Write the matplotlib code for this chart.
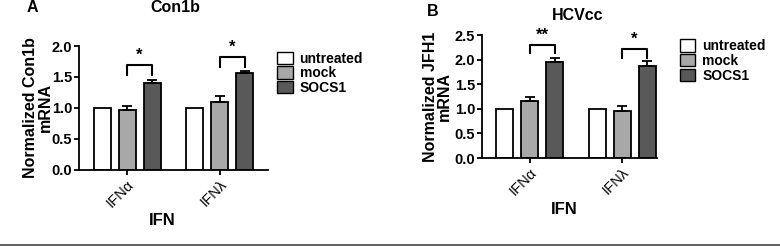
import numpy as np
import matplotlib
matplotlib.use("Agg")
import matplotlib.pyplot as plt
from matplotlib.lines import Line2D
from matplotlib.patches import Patch

plt.rcParams["font.family"] = ["Liberation Sans", "DejaVu Sans"]
plt.rcParams["font.weight"] = "bold"

GROUPS = ["IFN\u03b1", "IFN\u03bb"]
CONDS = ["untreated", "mock", "SOCS1"]
COLORS = ["#ffffff", "#a8a8a8", "#595959"]

# Panel A: Con1b
A_VALS = [[1.00, 0.96, 1.40], [1.00, 1.10, 1.56]]
A_ERR = [[0.0, 0.08, 0.05], [0.0, 0.09, 0.04]]
A_SIG = ["*", "*"]
A_BRACKET = [(1.69, 1.53), (1.82, 1.66)]  # (top, leg bottom)

# Panel B: HCVcc
B_VALS = [[1.00, 1.16, 1.95], [1.00, 0.95, 1.87]]
B_ERR = [[0.0, 0.09, 0.08], [0.0, 0.10, 0.10]]
B_SIG = ["**", "*"]
B_BRACKET = [(2.30, 2.13), (2.21, 2.03)]

GAP = 3.7
W = 0.68


def panel(ax, vals, errs, sigs, brackets, ymax, yticks, ylabel, xlim, leg_anchor):
    centers = np.arange(len(GROUPS)) * GAP
    for gi, c in enumerate(centers):
        for k in range(3):
            x = c + (k - 1)
            ax.bar(x, vals[gi][k], width=W, color=COLORS[k], edgecolor="black",
                   linewidth=1.3, zorder=2)
            if errs[gi][k] > 0:
                ax.errorbar(x, vals[gi][k], yerr=[[0], [errs[gi][k]]], fmt="none",
                            ecolor="black", elinewidth=1.3, capsize=3.5, capthick=1.3,
                            zorder=3)
        top, leg = brackets[gi]
        x1, x2 = c, c + 1
        ax.plot([x1, x1, x2, x2], [leg, top, top, leg], color="black", lw=1.5,
                clip_on=False)
        ax.text((x1 + x2) / 2, top + 0.02 * ymax, sigs[gi], ha="center", va="bottom",
                fontsize=12, fontweight="bold")
    ax.set_xlim(*xlim)
    ax.set_ylim(0, ymax)
    ax.set_yticks(yticks)
    ax.set_yticklabels([f"{t:.1f}" for t in yticks], fontsize=10.5, fontweight="bold")
    ax.set_xticks(centers)
    ax.set_xticklabels(GROUPS, rotation=45, ha="right", rotation_mode="anchor",
                       fontsize=10.5, fontweight="normal")
    for s in ("top", "right"):
        ax.spines[s].set_visible(False)
    for s in ("left", "bottom"):
        ax.spines[s].set_linewidth(1.3)
    ax.tick_params(axis="both", direction="out", width=1.3, length=3.5, pad=1.5)
    ax.set_ylabel(ylabel, fontsize=11.5, fontweight="bold", linespacing=0.95)
    ax.set_xlabel("IFN", fontsize=12, fontweight="bold")
    handles = [Patch(facecolor=COLORS[k], edgecolor="black", linewidth=1.0) for k in range(3)]
    ax.legend(handles, CONDS, loc="upper left", bbox_to_anchor=leg_anchor,
              frameon=False, fontsize=10, handlelength=1.1, handleheight=1.0,
              handletextpad=0.5, labelspacing=0.05, borderaxespad=0)
    return ax


fig = plt.figure(figsize=(7.8, 2.46), dpi=100)
axA = fig.add_axes([0.1013, 0.309, 0.2423, 0.504])
axB = fig.add_axes([0.618, 0.3577, 0.2244, 0.50])

panel(axA, A_VALS, A_ERR, A_SIG, A_BRACKET, 2.0, [0, 0.5, 1.0, 1.5, 2.0],
      "Normalized Con1b\nmRNA", (-1.92, 5.64), (1.02, 1.0))
panel(axB, B_VALS, B_ERR, B_SIG, B_BRACKET, 2.5, [0, 0.5, 1.0, 1.5, 2.0, 2.5],
      "Normalized JFH1\nmRNA", (-1.9, 5.1), (1.10, 1.01))

axA.yaxis.set_label_coords(-0.14, 0.5)
axB.yaxis.set_label_coords(-0.17, 0.5)
axA.xaxis.set_label_coords(0.44, -0.35)
axB.xaxis.set_label_coords(0.47, -0.36)

fig.text(175 / 780, 1 - 8 / 246, "Con1b", ha="center", va="center", fontsize=11.5, fontweight="bold")
fig.text(32 / 780, 1 - 8 / 246, "A", ha="center", va="center", fontsize=11.5, fontweight="bold")
fig.text(578 / 780, 1 - 15 / 246, "HCVcc", ha="center", va="center", fontsize=11.5, fontweight="bold")
fig.text(433 / 780, 1 - 12 / 246, "B", ha="center", va="center", fontsize=11.5, fontweight="bold")

fig.add_artist(Line2D([0, 1], [0.004, 0.004], color="#444444", lw=1.2,
                      transform=fig.transFigure))

fig.savefig("out.png", dpi=100)
